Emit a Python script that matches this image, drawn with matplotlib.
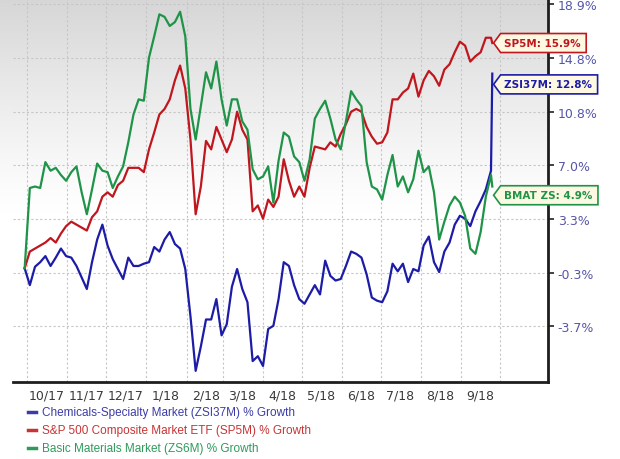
import numpy as np
import pandas as pd
import matplotlib
matplotlib.use('Agg')
import matplotlib.pyplot as plt
import matplotlib.dates as mdates
from matplotlib.patches import Polygon
from matplotlib.lines import Line2D
from matplotlib.transforms import IdentityTransform

# one point every 4 days, plus the last session
dates = list(pd.date_range('2017-09-29', periods=91, freq='4D')) + [pd.Timestamp('2018-09-25')]

chem_growth = [0.0, -1.1, 0.1, 0.4, 0.8, 0.15, 0.7, 1.3, 0.8, 0.7,
               0.15, -0.6, -1.35, 0.4, 1.9, 2.9, 1.5, 0.6, -0.05, -0.7,
               0.7, 0.15, 0.15, 0.3, 0.4, 1.4, 1.1, 1.9, 2.4, 1.6,
               1.3, -0.05, -3.1, -6.5, -5.0, -3.3, -3.3, -2.0, -4.3, -3.6,
               -1.2, -0.05, -1.35, -2.2, -5.9, -5.6, -6.2, -3.9, -3.7, -2.0,
               0.4, 0.15, -1.1, -2.0, -2.3, -1.7, -1.1, -1.7, 0.5, -0.5,
               -0.8, -0.7, 0.15, 1.1, 0.95, 0.7, -0.4, -1.9, -2.1, -2.2,
               -1.5, 0.3, -0.2, 0.3, -0.9, -0.05, -0.2, 1.5, 2.1, 0.4,
               -0.25, 1.1, 1.7, 2.9, 3.5, 3.3, 2.8, 3.8, 4.5, 5.3,
               6.6, 13.6]

sp500_growth = [0.0, 1.1, 1.3, 1.5, 1.7, 2.0, 1.7, 2.3, 2.8, 3.1,
                2.9, 2.7, 2.5, 3.4, 3.8, 4.8, 5.1, 4.8, 5.6, 5.9,
                6.8, 6.8, 6.8, 6.5, 8.1, 9.3, 10.6, 11.0, 11.7, 13.1,
                14.2, 12.5, 8.8, 3.6, 5.5, 8.7, 8.1, 9.7, 8.8, 7.9,
                8.8, 10.8, 9.5, 8.8, 3.8, 4.2, 3.3, 4.6, 4.1, 4.8,
                7.4, 5.9, 4.8, 5.5, 4.8, 6.8, 8.3, 8.2, 8.1, 8.6,
                8.3, 9.2, 9.9, 10.8, 11.0, 10.8, 9.7, 9.0, 8.5, 8.6,
                9.3, 11.7, 11.7, 12.2, 12.5, 13.6, 11.9, 13.1, 13.8, 13.4,
                12.7, 13.9, 14.3, 15.2, 16.0, 15.7, 14.5, 14.9, 15.2, 16.3,
                16.3, 15.9]

basic_growth = [0.0, 5.4, 5.5, 5.4, 7.2, 6.6, 6.8, 6.3, 5.9, 6.5,
                6.9, 5.1, 3.6, 5.3, 7.1, 6.6, 6.5, 5.4, 6.2, 6.9,
                8.6, 10.6, 11.7, 11.6, 14.8, 16.4, 18.1, 17.9, 17.2, 17.5,
                18.3, 16.4, 11.0, 8.8, 11.2, 13.7, 12.5, 14.5, 11.7, 9.8,
                11.7, 11.7, 10.1, 9.5, 6.7, 6.0, 6.2, 6.9, 4.4, 7.3,
                9.3, 9.0, 7.6, 7.2, 5.9, 7.4, 10.3, 11.0, 11.6, 10.3,
                8.8, 8.1, 10.1, 12.3, 11.7, 11.2, 7.2, 5.5, 5.3, 4.6,
                6.3, 7.7, 5.5, 6.2, 5.1, 6.0, 8.0, 6.5, 6.9, 5.1,
                1.9, 3.1, 4.2, 4.8, 4.4, 3.5, 1.3, 0.95, 2.4, 4.8,
                6.3, 5.5]

series = [chem_growth, sp500_growth, basic_growth]
series_names = ['Chemicals-Specialty Market (ZSI37M) % Growth',
                'S&P 500 Composite Market ETF (SP5M) % Growth',
                'Basic Materials Market (ZS6M) % Growth']
line_colors = ['#1c1ca6', '#c0161e', '#1f9448']
legend_colors = ['#3c3ca8', '#c83434', '#2f9a5c']

callout_texts = ['ZSI37M: 12.8%', 'SP5M: 15.9%', 'BMAT ZS: 4.9%']
callout_values = [12.8, 15.9, 4.9]

ytick_values = [-3.7, -0.3, 3.3, 7.0, 10.8, 14.8, 18.9]
month_starts = pd.date_range('2017-10-01', '2018-10-01', freq='MS')
month_mids = month_starts[:-1] + pd.Timedelta(days=15)
month_labels = [f'{d.month}/{d:%y}' for d in month_starts[:-1]]


def growth_fwd(g):
    return np.log1p(np.asarray(g) / 100.0)


def growth_inv(t):
    return np.expm1(np.asarray(t)) * 100.0


W, H = 620, 460
fig = plt.figure(figsize=(W / 100, H / 100), dpi=100)

# grey-to-white background behind the plot
bg = fig.add_axes([0, 1 - 383 / H, 548 / W, 383 / H], zorder=0)
rows = np.arange(383)
shade = np.where(rows < 215, 1 - 0.16 * (1 - rows / 215) ** 1.2, 1.0)
img = np.repeat(shade[:, None], 2, axis=1)
bg.imshow(np.dstack([img, img, img]), aspect='auto', interpolation='bilinear')
bg.axis('off')

ax = fig.add_axes([13 / W, 1 - 383 / H, (548 - 13) / W, 383 / H], zorder=1)
ax.set_facecolor('none')

for values, color in zip(series, line_colors):
    ax.plot(dates, values, color=color, lw=1.6, zorder=3, solid_joinstyle='round')

ax.set_yscale('function', functions=(growth_fwd, growth_inv))
ax.set_ylim(-7.18, 19.29)
ax.set_xlim(pd.Timestamp('2017-09-20'), pd.Timestamp('2018-11-07'))

ax.set_xticks(month_starts)
ax.set_xticks(month_mids, minor=True)
ax.set_xticklabels(month_labels, minor=True)
ax.tick_params(axis='x', which='major', length=0, labelbottom=False)
ax.tick_params(axis='x', which='minor', length=0, labelsize=9, labelcolor='#3a3a3a', pad=5)

ax.yaxis.tick_right()
ax.set_yticks(ytick_values)
ax.set_yticklabels([f'{v:.1f}%' for v in ytick_values])
ax.yaxis.set_minor_locator(matplotlib.ticker.NullLocator())
ax.tick_params(axis='y', length=4, width=1.2, color='#222222', labelsize=9,
               labelcolor='#5656a8', pad=3)

ax.grid(axis='x', which='major', color='#c6c6c6', linestyle=(0, (2, 2)), lw=0.8)
ax.grid(axis='y', which='major', color='#c6c6c6', linestyle=(0, (2, 2)), lw=0.8)

for side in ['top', 'left']:
    ax.spines[side].set_visible(False)
for side in ['right', 'bottom']:
    ax.spines[side].set_linewidth(2)
    ax.spines[side].set_color('#1e1e1e')

# value callouts on the right
fig.canvas.draw()
renderer = fig.canvas.get_renderer()
ident = IdentityTransform()
tip_x = ax.transData.transform((mdates.date2num(pd.Timestamp('2018-09-26')), 0))[0]
for text, value, color in zip(callout_texts, callout_values, line_colors):
    y = ax.transData.transform((0, value))[1]
    t = fig.text(tip_x + 10, y, text, transform=ident, ha='left', va='center',
                 fontsize=7.5, fontweight='bold', color=color, zorder=6)
    bb = t.get_window_extent(renderer)
    x1 = bb.x1 + 6
    h = 19
    pts = [(tip_x, y), (tip_x + 7, y + h / 2), (x1, y + h / 2),
           (x1, y - h / 2), (tip_x + 7, y - h / 2)]
    fig.add_artist(Polygon(pts, closed=True, transform=ident, facecolor='#fdf8e2',
                           edgecolor=color, lw=1.2, zorder=5))

# legend under the chart
for i, (name, color) in enumerate(zip(series_names, legend_colors)):
    y = 1 - (413 + 18 * i) / H
    fig.add_artist(Line2D([28 / W, 36 / W], [y, y], color=color, lw=2.5,
                          transform=fig.transFigure))
    fig.text(42 / W, y, name, color=color, fontsize=8.5, va='center',
             family='Liberation Sans')

fig.savefig('out.png', dpi=100)
